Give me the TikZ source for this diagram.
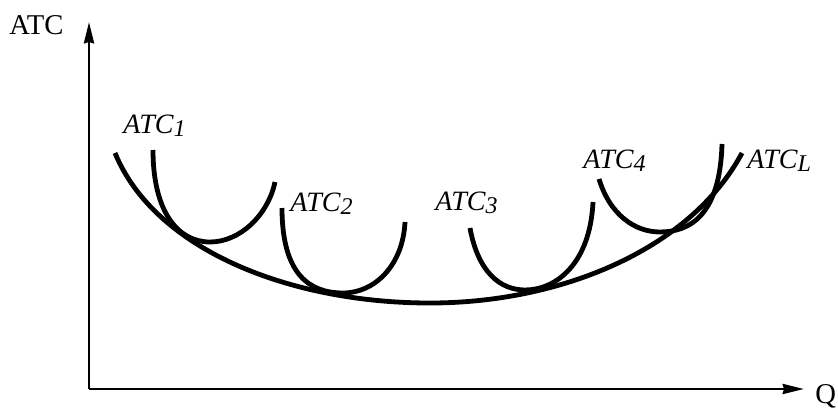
\documentclass[tikz,border=0pt]{standalone}
\usepackage{fontspec}
\setmainfont{Liberation Serif}
\newfontfamily\timesfont{Liberation Serif}
\usetikzlibrary{arrows.meta}
\tikzset{
  curvestyle/.style={line width=3.6pt},
  axisstyle/.style={line width=1.9pt, -{Stealth[length=16pt,width=7.5pt,inset=1pt]}},
  axlbl/.style={inner sep=0pt, anchor=base west, font=\timesfont\fontsize{21.5}{25}\selectfont},
  lbl/.style={inner sep=0pt, anchor=base west, font=\timesfont\fontsize{21}{25}\selectfont\itshape},
}
\newcommand\lsub[1]{\raisebox{-2.8pt}{\fontsize{18}{18}\selectfont #1}}
\begin{document}
\begin{tikzpicture}[x=0.75pt,y=-0.75pt]
\useasboundingbox (0,0) rectangle (838,410);
% axes
\coordinate (O) at (89,389);
\coordinate (ytop) at (89,22);
\coordinate (xend) at (804,389);
\draw[axisstyle] (O) -- (ytop);
\draw[axisstyle] (O) -- (xend);
\node[axlbl] (ylab) at (9,35) {ATC};
\node[axlbl] (xlab) at (815,403) {Q};
% long-run curve
\coordinate (L0) at (115,153);
\coordinate (Lm) at (430,303);
\coordinate (L1) at (742,153);
\draw[curvestyle] (L0) .. controls (155,250) and (290,303) .. (Lm)
                       .. controls (560,303) and (690,250) .. (L1);
% short-run curves
\coordinate (a0) at (153,150); \coordinate (am) at (210,242); \coordinate (a1) at (275,182);
\draw[curvestyle] (a0) .. controls (153,212) and (178,242) .. (am)
                       .. controls (240,242) and (268,215) .. (a1);
\coordinate (b0) at (282,208); \coordinate (bm) at (343,293); \coordinate (b1) at (405,222);
\draw[curvestyle] (b0) .. controls (282,275) and (310,293) .. (bm)
                       .. controls (375,293) and (403,265) .. (b1);
\coordinate (c0) at (470,228); \coordinate (cm) at (525,290); \coordinate (c1) at (593,202);
\draw[curvestyle] (c0) .. controls (478,272) and (500,290) .. (cm)
                       .. controls (555,290) and (590,265) .. (c1);
\coordinate (d0) at (599,179); \coordinate (dm) at (660,232); \coordinate (d1) at (722,144);
\draw[curvestyle] (d0) .. controls (610,215) and (635,232) .. (dm)
                       .. controls (690,232) and (720,215) .. (d1);
% labels
\node[lbl] (l1) at (123,133) {ATC\lsub{1}};
\node[lbl] (l2) at (290,211) {ATC\lsub{2}};
\node[lbl] (l3) at (435,210) {ATC\lsub{3}};
\node[lbl] (l4) at (583,168) {ATC\lsub{4}};
\node[lbl] (lL) at (747,168) {ATC\lsub{L}};
\end{tikzpicture}
\end{document}
